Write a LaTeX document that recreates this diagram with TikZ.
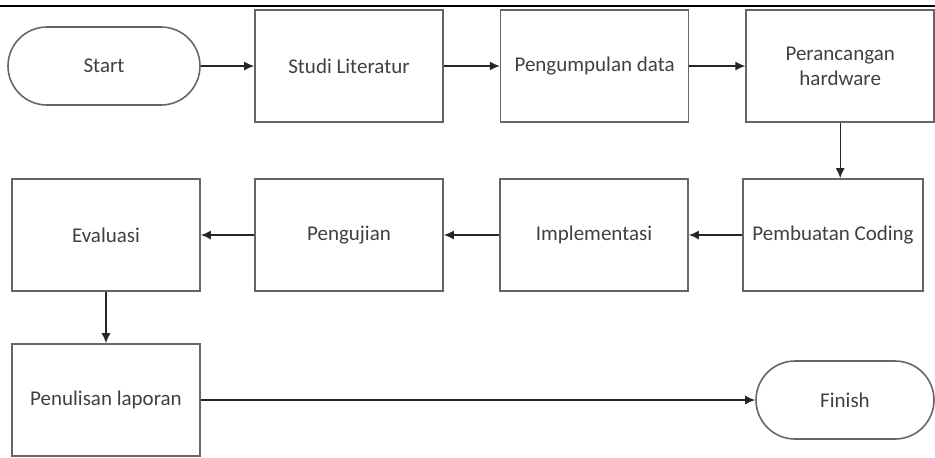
\documentclass[tikz,border=0pt]{standalone}
\usepackage{fontspec}
\setmainfont{Carlito}
\usetikzlibrary{arrows.meta,positioning}

\begin{document}
\begin{tikzpicture}[
    x=0.5pt,y=-0.5pt,
    >={Latex[length=5pt,width=4.5pt]},
    font=\fontsize{10.5}{12.5}\selectfont,
    box/.style={draw=black!60,line width=0.8pt,text=black!75,minimum width=94pt,minimum height=56pt,
      align=center,inner sep=2pt},
    term/.style={draw=black!60,line width=0.8pt,text=black!75,minimum width=96pt,minimum height=39pt,
      rounded corners=19.5pt},
    arr/.style={->,line width=0.7pt,black!85}
  ]
    \useasboundingbox (0,0) rectangle (935,457);
    \draw[line width=1.3pt] (0,6) -- (935,6);

    % Row 1
    \node[term] (start) at (104,66) {Start};
    \node[box] (studi) at (349,66) {Studi Literatur};
    \node[box] (data) [right=28pt of studi] {Pengumpulan data};
    \node[box] (hw) [right=28pt of data] {Perancangan\\hardware};

    % Row 2
    \node[box,minimum width=90pt] (coding) at (833,235) {Pembuatan Coding};
    \node[box] (impl) at (594,235) {Implementasi};
    \node[box] (uji) at (349,235) {Pengujian};
    \node[box] (eval) at (106,235) {Evaluasi};

    % Row 3
    \node[box] (tulis) at (106,400) {Penulisan laporan};
    \node[term,minimum width=89pt] (finish) at (845,400) {Finish};

    \draw[arr] (start) -- (studi);
    \draw[arr] (studi) -- (data);
    \draw[arr] (data) -- (hw);
    \draw[arr] (hw) -- (hw |- coding.north);
    \draw[arr] (coding) -- (impl);
    \draw[arr] (impl) -- (uji);
    \draw[arr] (uji) -- (eval);
    \draw[arr] (eval) -- (tulis);
    \draw[arr] (tulis) -- (finish);
\end{tikzpicture}
\end{document}
